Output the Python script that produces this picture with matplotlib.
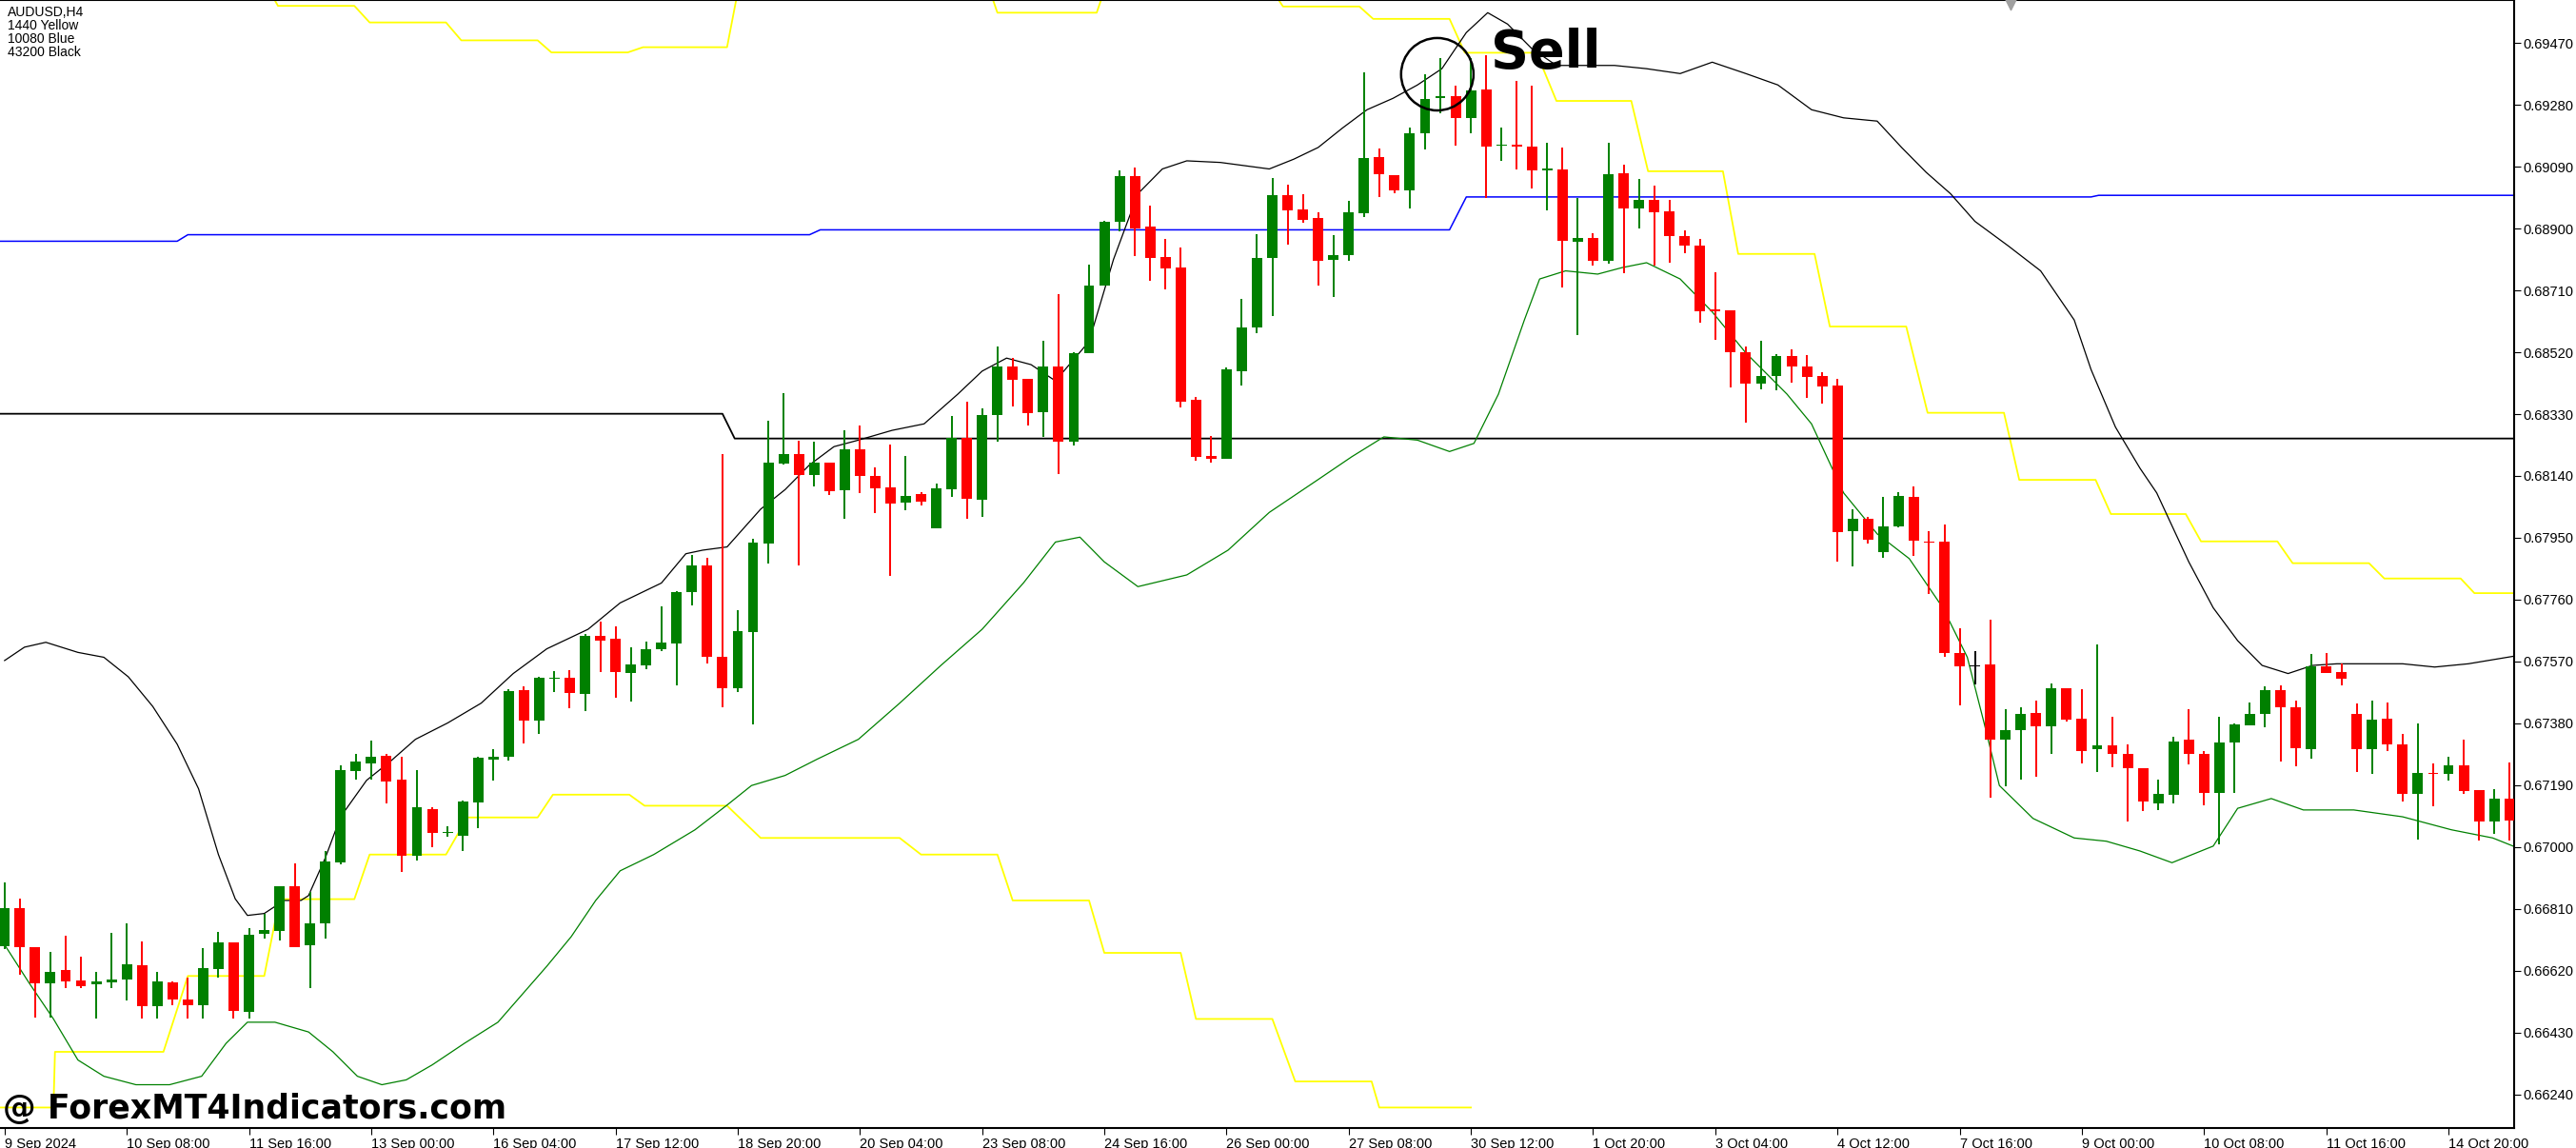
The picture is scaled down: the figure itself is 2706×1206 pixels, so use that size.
import matplotlib
matplotlib.use("Agg")
import matplotlib.pyplot as plt
import numpy as np

# ---- candles (AUDUSD H4) ----
opens = [0.66696,0.66811,0.66694,0.66581,0.66621,0.66589,0.66579,0.66584,0.66592,0.66636,
         0.66511,0.66584,0.66531,0.66514,0.66625,0.66706,0.66494,0.66733,0.66742,0.66879,
         0.66698,0.66766,0.66952,0.67234,0.67257,0.67279,0.67206,0.66973,0.67118,0.67042,
         0.67035,0.67137,0.67269,0.67277,0.67481,0.67388,0.67517,0.67521,0.67470,0.67648,
         0.67639,0.67535,0.67558,0.67608,0.67626,0.67782,0.67865,0.67585,0.67489,0.67660,
         0.67932,0.68178,0.68207,0.68143,0.68180,0.68097,0.68221,0.68141,0.68105,0.68059,
         0.68084,0.67980,0.68100,0.68256,0.68068,0.68328,0.68475,0.68437,0.68336,0.68475,
         0.68246,0.68518,0.68726,0.68920,0.69062,0.68905,0.68813,0.68780,0.68373,0.68201,
         0.68194,0.68461,0.68595,0.68809,0.69002,0.68960,0.68932,0.68804,0.68819,0.68947,
         0.69119,0.69064,0.69016,0.69192,0.69301,0.69307,0.69238,0.69327,0.69155,0.69159,
         0.69151,0.69080,0.69082,0.68859,0.68870,0.68801,0.69070,0.68963,0.68989,0.68954,
         0.68877,0.68847,0.68651,0.68648,0.68521,0.68425,0.68448,0.68507,0.68477,0.68448,
         0.68419,0.67969,0.68009,0.67905,0.67984,0.68077,0.67939,0.67937,0.67595,0.67556,
         0.67560,0.67329,0.67359,0.67412,0.67372,0.67488,0.67395,0.67300,0.67313,0.67287,
         0.67242,0.67135,0.67159,0.67329,0.67287,0.67167,0.67321,0.67375,0.67410,0.67483,
         0.67430,0.67302,0.67554,0.67538,0.67410,0.67302,0.67395,0.67316,0.67164,0.67229,
         0.67226,0.67251,0.67175,0.67078,0.67150,0.67081]
highs = [0.66892,0.66843,0.66694,0.66677,0.66729,0.66662,0.66618,0.66735,0.66765,0.66709,
         0.66618,0.66586,0.66599,0.66691,0.66738,0.66708,0.66750,0.66794,0.66879,0.66950,
         0.66862,0.66987,0.67250,0.67286,0.67328,0.67287,0.67276,0.67235,0.67122,0.67064,
         0.67142,0.67276,0.67300,0.67484,0.67493,0.67522,0.67540,0.67543,0.67656,0.67693,
         0.67677,0.67613,0.67630,0.67739,0.67787,0.67897,0.67888,0.68207,0.67727,0.67947,
         0.68310,0.68394,0.68247,0.68244,0.68180,0.68279,0.68296,0.68167,0.68236,0.68201,
         0.68091,0.68117,0.68323,0.68369,0.68348,0.68539,0.68502,0.68437,0.68556,0.68698,
         0.68521,0.68790,0.68924,0.69080,0.69087,0.68970,0.68868,0.68842,0.68383,0.68264,
         0.68473,0.68683,0.68882,0.69054,0.69035,0.69005,0.68949,0.68880,0.68984,0.69380,
         0.69145,0.69064,0.69209,0.69374,0.69425,0.69338,0.69425,0.69432,0.69209,0.69353,
         0.69338,0.69162,0.69148,0.68995,0.68885,0.69163,0.69096,0.69053,0.69033,0.68989,
         0.68893,0.68868,0.68767,0.68648,0.68539,0.68556,0.68515,0.68530,0.68510,0.68458,
         0.68437,0.68039,0.68013,0.68076,0.68091,0.68107,0.67971,0.67990,0.67673,0.67603,
         0.67697,0.67424,0.67428,0.67451,0.67503,0.67488,0.67484,0.67621,0.67400,0.67316,
         0.67242,0.67208,0.67340,0.67424,0.67294,0.67399,0.67381,0.67443,0.67495,0.67497,
         0.67451,0.67592,0.67595,0.67563,0.67440,0.67451,0.67443,0.67348,0.67379,0.67256,
         0.67278,0.67329,0.67175,0.67178,0.67261,0.67115]
lows = [0.66687,0.66609,0.66477,0.66477,0.66567,0.66567,0.66472,0.66567,0.66529,0.66472,
        0.66472,0.66514,0.66472,0.66472,0.66599,0.66472,0.66472,0.66719,0.66713,0.66694,
        0.66567,0.66718,0.66947,0.67207,0.67207,0.67135,0.66923,0.66958,0.67001,0.67031,
        0.66988,0.67057,0.67203,0.67266,0.67318,0.67347,0.67476,0.67426,0.67418,0.67538,
        0.67459,0.67447,0.67546,0.67602,0.67498,0.67743,0.67564,0.67429,0.67475,0.67377,
        0.67872,0.68175,0.67866,0.68109,0.68082,0.68009,0.68086,0.68027,0.67834,0.68036,
        0.68050,0.67980,0.68076,0.68007,0.68015,0.68246,0.68354,0.68296,0.68261,0.68146,
        0.68235,0.68518,0.68726,0.68891,0.68814,0.68738,0.68714,0.68351,0.68186,0.68180,
        0.68194,0.68417,0.68578,0.68631,0.68851,0.68917,0.68726,0.68689,0.68801,0.68935,
        0.68997,0.69007,0.68963,0.69143,0.69255,0.69156,0.69192,0.68995,0.69108,0.69082,
        0.69024,0.68955,0.68718,0.68572,0.68787,0.68793,0.68762,0.68900,0.68787,0.68796,
        0.68824,0.68610,0.68558,0.68411,0.68305,0.68406,0.68403,0.68426,0.68380,0.68362,
        0.67876,0.67862,0.67932,0.67888,0.67981,0.67893,0.67776,0.67583,0.67435,0.67500,
        0.67152,0.67188,0.67208,0.67217,0.67285,0.67386,0.67258,0.67231,0.67244,0.67080,
        0.67112,0.67115,0.67135,0.67255,0.67129,0.67009,0.67167,0.67373,0.67368,0.67262,
        0.67248,0.67272,0.67535,0.67497,0.67231,0.67224,0.67294,0.67139,0.67022,0.67124,
        0.67204,0.67164,0.67021,0.67040,0.67021,0.66996]
closes = [0.66811,0.66694,0.66581,0.66618,0.66587,0.66574,0.66586,0.66592,0.66639,0.66511,
          0.66586,0.66531,0.66514,0.66627,0.66706,0.66496,0.66732,0.66744,0.66879,0.66694,
          0.66767,0.66955,0.67235,0.67262,0.67276,0.67201,0.66973,0.67122,0.67043,0.67047,
          0.67139,0.67273,0.67277,0.67478,0.67388,0.67519,0.67519,0.67473,0.67648,0.67634,
          0.67538,0.67560,0.67607,0.67627,0.67782,0.67865,0.67585,0.67489,0.67664,0.67935,
          0.68180,0.68207,0.68143,0.68180,0.68094,0.68221,0.68141,0.68103,0.68056,0.68080,
          0.68062,0.68102,0.68256,0.68071,0.68328,0.68475,0.68435,0.68334,0.68475,0.68246,
          0.68516,0.68724,0.68920,0.69062,0.68901,0.68810,0.68778,0.68369,0.68197,0.68194,
          0.68467,0.68595,0.68809,0.69002,0.68955,0.68928,0.68802,0.68819,0.68949,0.69117,
          0.69067,0.69018,0.69194,0.69298,0.69307,0.69238,0.69325,0.69151,0.69159,0.69151,
          0.69080,0.69082,0.68862,0.68870,0.68801,0.69067,0.68963,0.68989,0.68951,0.68877,
          0.68847,0.68647,0.68645,0.68521,0.68425,0.68448,0.68507,0.68477,0.68443,0.68416,
          0.67966,0.68009,0.67943,0.67984,0.68078,0.67941,0.67934,0.67595,0.67554,0.67554,
          0.67329,0.67359,0.67410,0.67372,0.67488,0.67392,0.67296,0.67313,0.67287,0.67241,
          0.67139,0.67163,0.67325,0.67287,0.67167,0.67321,0.67378,0.67410,0.67481,0.67430,
          0.67305,0.67554,0.67535,0.67516,0.67302,0.67392,0.67314,0.67164,0.67229,0.67226,
          0.67251,0.67173,0.67078,0.67150,0.67081,0.67005]
doji_black = [129]

# ---- indicator lines (bar index, price) ----
upper_x = [0,1.3,2.7,4.8,6.5,8.1,9.7,11.3,12.7,14,15.1,15.9,17,18.3,19.4,19.9,21,22,23.7,25.3,
           26.9,29,31.2,33.3,35.5,38.2,40.3,43,44.6,45.7,47.3,49.5,51.1,52.7,54.3,55.9,58.1,60.2,
           62.4,64,65.6,67.2,68.8,71,72.6,74.2,75.8,77.4,79.6,82.8,84.4,86,87.6,89.2,90.9,92.5,
           94.1,95.7,97.1,98.4,100,101.6,105.4,107.5,109.7,111.8,114,116.1,118.3,120.4,122.6,
           124.2,125.8,127.4,129,131.2,133.3,135.5,136.6,138.2,139.8,140.9,141.9,143,144.6,146.2,
           147.8,149.5,151.1,152.7,157,159.1,161.3,164.5]
upper_y = [0.67573,0.67614,0.67629,0.67598,0.67583,0.67523,0.67432,0.67316,0.67179,0.66977,
           0.66841,0.66790,0.66796,0.66836,0.66836,0.66851,0.66967,0.67093,0.67205,0.67265,
           0.67331,0.67381,0.67442,0.67533,0.67609,0.67669,0.67750,0.67811,0.67901,0.67912,
           0.67922,0.68038,0.68098,0.68174,0.68230,0.68250,0.68280,0.68300,0.68391,0.68462,
           0.68502,0.68482,0.68432,0.68553,0.68805,0.69007,0.69083,0.69108,0.69103,0.69083,
           0.69113,0.69149,0.69209,0.69265,0.69300,0.69341,0.69391,0.69502,0.69563,0.69528,
           0.69452,0.69401,0.69401,0.69391,0.69376,0.69411,0.69376,0.69341,0.69265,0.69240,
           0.69230,0.69149,0.69073,0.69007,0.68922,0.68846,0.68770,0.68619,0.68467,0.68290,
           0.68164,0.68088,0.67987,0.67876,0.67735,0.67634,0.67558,0.67533,0.67558,0.67563,
           0.67563,0.67553,0.67563,0.67588]
lower_x = [0,1.6,3.2,4.8,6.5,8.6,10.8,12.9,14.5,15.9,17.7,19.9,21.5,23.1,24.7,26.3,28,30.1,
           32.3,33.9,35.5,37.1,38.7,40.3,42.5,45.2,47.3,48.9,51.1,53.2,55.9,58.6,61.3,64,66.7,
           68.8,70.4,72,74.2,77.4,80.1,82.8,86,88.2,90.3,92.5,94.6,96.2,97.8,99.5,100.5,102.2,
           104.3,105.9,107.5,109.7,111.8,114,116.7,118.3,120.4,122.6,124.7,126.9,128.5,129.6,
           130.6,132.8,135.5,137.6,139.8,141.9,144.6,146.2,148.4,150.5,153.8,157,160.2,162.9,164.5]
lower_y = [0.66700,0.66583,0.66472,0.66346,0.66296,0.66270,0.66270,0.66296,0.66397,0.66462,
           0.66462,0.66432,0.66371,0.66296,0.66270,0.66285,0.66331,0.66397,0.66462,0.66548,
           0.66634,0.66725,0.66836,0.66927,0.66977,0.67053,0.67129,0.67189,0.67220,0.67270,
           0.67331,0.67442,0.67558,0.67669,0.67811,0.67937,0.67952,0.67876,0.67800,0.67836,
           0.67912,0.68028,0.68129,0.68199,0.68260,0.68250,0.68215,0.68240,0.68391,0.68619,
           0.68745,0.68770,0.68760,0.68780,0.68795,0.68745,0.68644,0.68518,0.68391,0.68300,
           0.68088,0.67962,0.67886,0.67735,0.67583,0.67381,0.67189,0.67088,0.67028,0.67018,
           0.66988,0.66952,0.67003,0.67119,0.67149,0.67114,0.67114,0.67093,0.67053,0.67028,0.66998]
ylw_lo_x = [-1,3.2,3.3,10.4,12,17,18,22.9,23.9,28.9,30.3,34.9,35.9,40.9,41.9,47.3,49.5,58.6,
            60,65,66,71,72,77,78,83,84.5,89.5,90,96]
ylw_lo_y = [0.6620,0.6620,0.66371,0.66371,0.66604,0.66604,0.66840,0.66840,0.66977,0.66977,
            0.67091,0.67091,0.67161,0.67161,0.67127,0.67127,0.67028,0.67028,0.66977,0.66977,
            0.66836,0.66836,0.66675,0.66675,0.66472,0.66472,0.66280,0.66280,0.66200,0.66200]
ylw_hi_x = [16.5,17.9,22.9,23.9,28.9,29.9,34.9,35.8,40.8,41.8,47.3,48.3,64,65,71.5,72.5,82,
            83.5,83.7,88.7,89.6,94.6,95.6,100.3,101.6,106.5,107.6,112.5,113.5,118.5,119.5,124.5,
            125.9,130.9,131.9,136.9,137.9,142.8,143.8,148.8,149.8,154.8,155.8,160.8,161.7,164.7]
ylw_hi_y = [0.6970,0.69584,0.69584,0.69533,0.69533,0.69478,0.69478,0.69441,0.69441,0.69457,
            0.69457,0.6970,0.6970,0.69563,0.69563,0.6970,0.6970,0.69596,0.69582,0.69582,
            0.69544,0.69544,0.69440,0.69440,0.69292,0.69292,0.69076,0.69076,0.68822,0.68822,
            0.68599,0.68599,0.68334,0.68334,0.68128,0.68128,0.68023,0.68023,0.67939,0.67939,
            0.67872,0.67872,0.67825,0.67825,0.67780,0.67780]
blue_x = [-1,11.3,12,52.7,53.4,94.6,95.7,136.6,137.1,166]
blue_y = [0.68861,0.68861,0.68881,0.68881,0.68896,0.68896,0.68997,0.68997,0.69002,0.69002]
month_x = [-1,47,47.8,166]
month_y = [0.68331,0.68331,0.68255,0.68255]

ytick_vals = [0.66240,0.66430,0.66620,0.66810,0.67000,0.67190,0.67380,0.67570,0.67760,0.67950,
              0.68140,0.68330,0.68520,0.68710,0.68900,0.69090,0.69280,0.69470]
xtick_pos = list(range(0, 161, 8))
xtick_labels = ["9 Sep 2024","10 Sep 08:00","11 Sep 16:00","13 Sep 00:00","16 Sep 04:00",
                "17 Sep 12:00","18 Sep 20:00","20 Sep 04:00","23 Sep 08:00","24 Sep 16:00",
                "26 Sep 00:00","27 Sep 08:00","30 Sep 12:00","1 Oct 20:00","3 Oct 04:00",
                "4 Oct 12:00","7 Oct 16:00","9 Oct 00:00","10 Oct 08:00","11 Oct 16:00",
                "14 Oct 20:00"]

fig = plt.figure(figsize=(27.06, 12.06), dpi=100)
ax = fig.add_axes([0.0, 1 - 1185/1206, 2641/2706, 1185/1206])

# indicator lines
ax.plot(ylw_lo_x, ylw_lo_y, color="#ffff00", lw=1.3, zorder=1)
ax.plot(ylw_hi_x, ylw_hi_y, color="#ffff00", lw=1.3, zorder=1)
ax.plot(blue_x, blue_y, color="#0000ff", lw=1.1, zorder=1)
ax.plot(month_x, month_y, color="black", lw=1.3, zorder=1)
ax.plot(upper_x, upper_y, color="black", lw=0.9, zorder=1)
ax.plot(lower_x, lower_y, color="#008000", lw=0.9, zorder=1)

# candles
o = np.array(opens); h = np.array(highs); l = np.array(lows); c = np.array(closes)
idx = np.arange(len(o))
cols = np.where(c >= o, "#008000", "#ff0000").astype(object)
for i in doji_black:
    cols[i] = "black"
ax.vlines(idx, l, h, colors=list(cols), lw=1.4, zorder=2)
body = np.maximum(np.abs(c - o), 0.00003)
ax.bar(idx, body, bottom=np.minimum(o, c), width=0.68, color=list(cols), lw=0, zorder=3)

# annotation
ax.scatter([93.8], [0.69374], s=3000, facecolors="none", edgecolors="black", linewidths=1.8, zorder=4)
ax.text(97.3, 0.69394, "Sell", fontsize=40, fontweight="bold", color="black", zorder=5)
ax.scatter([131.3], [0.69590], marker="v", s=80, color="#a0a0a0", zorder=5, clip_on=False)

ax.text(0.003, 0.995, "AUDUSD,H4\n1440 Yellow\n10080 Blue\n43200 Black", transform=ax.transAxes,
        va="top", ha="left", fontsize=10, linespacing=1.0, family="Liberation Sans")
fig.text(0.001, 0.02, "@ ForexMT4Indicators.com", fontsize=25, fontweight="bold", color="black",
         va="bottom", ha="left")

ax.set_xlim(-0.3, 164.3)
ax.set_ylim(0.66137, 0.69602)
ax.yaxis.tick_right()
ax.set_yticks(ytick_vals)
ax.set_yticklabels([f"{v:.5f}" for v in ytick_vals], family="Liberation Sans")
ax.set_xticks(xtick_pos)
ax.set_xticklabels(xtick_labels, ha="left", family="Liberation Sans")
ax.tick_params(axis="both", labelsize=10.5, length=5, direction="out", pad=2)
ax.spines["left"].set_visible(False)
for s in ["top", "right", "bottom"]:
    ax.spines[s].set_linewidth(1.5)

fig.savefig("out.png", dpi=100)
